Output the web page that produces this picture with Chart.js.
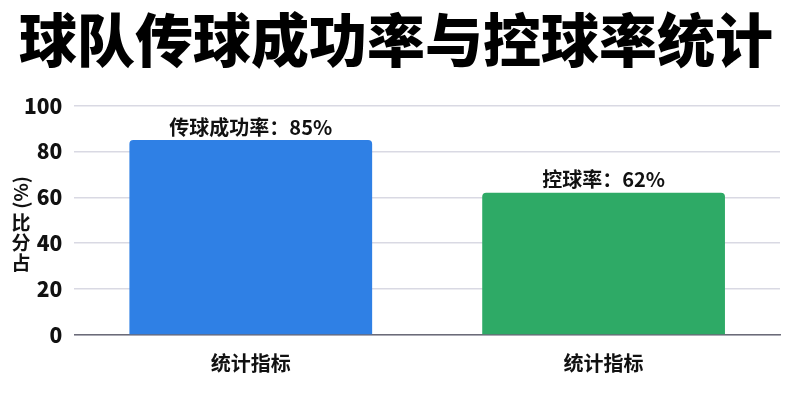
<!DOCTYPE html>
<html>
<head>
<meta charset="utf-8">
<script src="https://cdn.jsdelivr.net/npm/chart.js@4/dist/chart.umd.min.js"></script>
<style>
  html, body { margin: 0; padding: 0; background: #ffffff; }
  #wrap { width: 800px; height: 400px; }
</style>
</head>
<body>
<div id="wrap"><canvas id="myChart"></canvas></div>
<script>
const CHART_TITLE = "球队传球成功率与控球率统计";
const Y_TITLE = "占分比 (%)";
const categories = ["统计指标", "统计指标"];
const metricNames = ["传球成功率", "控球率"];
const metricValues = [85, 62];
const barColors = ["#2f80e5", "#2eaa66"];
const yTicks = [0, 20, 40, 60, 80, 100];

const FONT = "'Noto Sans CJK SC', 'Noto Sans', sans-serif";

// label above each bar: "name：value%"
const barLabels = {
  id: "barLabels",
  afterDatasetsDraw(chart) {
    const ctx = chart.ctx;
    const meta = chart.getDatasetMeta(0);
    ctx.save();
    ctx.font = "bold 20px " + FONT;
    ctx.fillStyle = "#111";
    ctx.textAlign = "center";
    ctx.textBaseline = "bottom";
    meta.data.forEach((bar, idx) => {
      ctx.fillText(metricNames[idx] + "：" + metricValues[idx] + "%", bar.x, bar.y - 3);
    });
    ctx.restore();
  }
};

// y axis title: chinese chars kept upright, stacked bottom to top, "(%)" turned sideways on top
const yTitle = {
  id: "yTitle",
  afterDraw(chart) {
    const ctx = chart.ctx;
    const area = chart.chartArea;
    const x = 21;
    const parts = Y_TITLE.split(" ");
    const chars = Array.from(parts[0]);
    const unit = parts[1] || "";
    ctx.save();
    ctx.font = "bold 19px " + FONT;
    ctx.fillStyle = "#111";
    ctx.textAlign = "center";
    ctx.textBaseline = "middle";
    const step = 20;
    const unitLen = ctx.measureText(unit).width;
    const total = chars.length * step + 4 + unitLen;
    let y = (area.top + area.bottom) / 2 + total / 2 + 4;
    chars.forEach(c => {
      ctx.fillText(c, x, y - step / 2);
      y -= step;
    });
    y -= 4;
    ctx.translate(x, y - unitLen / 2);
    ctx.rotate(-Math.PI / 2);
    ctx.fillText(unit, 0, 0);
    ctx.restore();
  }
};

const data = {
  labels: categories,
  datasets: [{
    data: metricValues,
    backgroundColor: barColors,
    borderRadius: { topLeft: 4, topRight: 4 },
    borderSkipped: "bottom",
    categoryPercentage: 0.8,
    barPercentage: 0.86
  }]
};

const config = {
  type: "bar",
  data: data,
  plugins: [barLabels, yTitle],
  options: {
    responsive: true,
    maintainAspectRatio: false,
    animation: false,
    layout: { padding: { left: 12, right: 20, top: 4, bottom: 17 } },
    plugins: {
      legend: { display: false },
      tooltip: { enabled: false },
      title: {
        display: true,
        text: CHART_TITLE,
        color: "#000",
        font: { family: FONT, size: 58, weight: "900" },
        padding: { top: 1, bottom: 31 }
      }
    },
    scales: {
      x: {
        grid: { display: false },
        border: { display: true, color: "#6b6b78", width: 1.5 },
        ticks: {
          color: "#111",
          padding: 8,
          font: { family: FONT, size: 20, weight: "bold" }
        }
      },
      y: {
        min: 0,
        max: 100,
        afterBuildTicks: (axis) => { axis.ticks = yTicks.map(v => ({ value: v })); },
        grid: { color: "#d9d9e3", lineWidth: 1.5, drawTicks: false },
        border: { display: false },
        ticks: {
          color: "#111",
          padding: 12,
          font: { family: FONT, size: 21, weight: "900" }
        }
      }
    }
  }
};

const myChart = new Chart(document.getElementById("myChart"), config);
</script>
</body>
</html>
